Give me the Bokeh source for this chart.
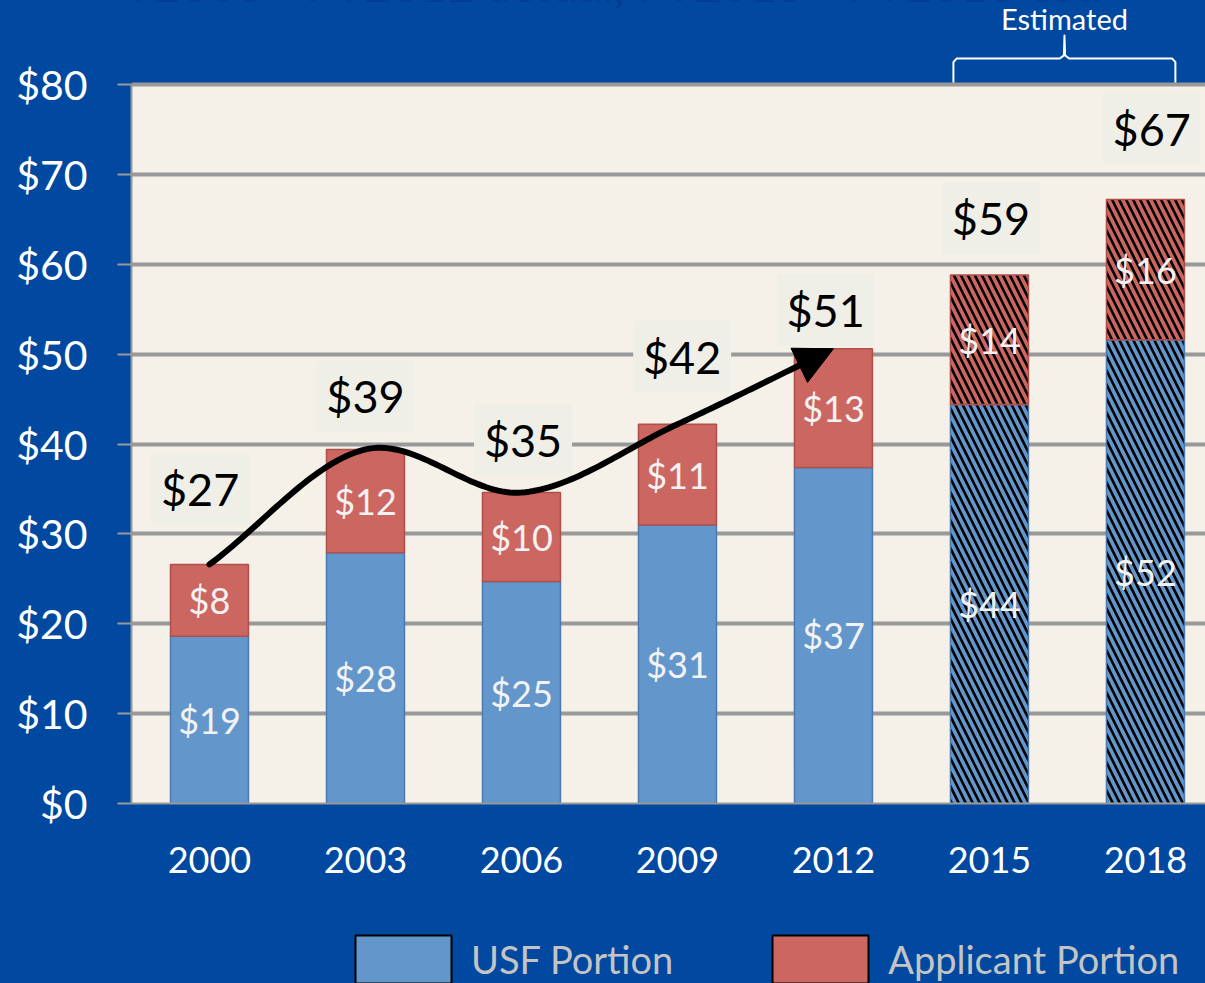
import numpy as np
from bokeh.plotting import figure
from bokeh.layouts import column
from bokeh.models import (ColumnDataSource, Range1d, FixedTicker, NumeralTickFormatter,
                          Legend, LegendItem, Arrow, NormalHead, BoxAnnotation)
from bokeh.core.properties import value
from bokeh.embed import file_html
from bokeh.resources import INLINE

# ---------------- data ----------------
years = ["2000", "2003", "2006", "2009", "2012", "2015", "2018"]
usf_portion = [18.6, 27.9, 24.7, 31.0, 37.4, 44.4, 51.6]
applicant_portion = [8.0, 11.5, 9.9, 11.2, 13.2, 14.4, 15.6]
is_estimated = [False, False, False, False, False, True, True]
y_ticks = [0, 10, 20, 30, 40, 50, 60, 70, 80]
legend_labels = ["USF Portion", "Applicant Portion"]
estimated_text = "Estimated"
title_text = "FY2000 - FY2012 actual, FY2015 - FY2018 est."

# ---------------- layout constants ----------------
total_label_dx = [-0.06, 0.0, 0.01, 0.03, -0.05, 0.01, 0.04]
total_label_y = [35.0, 45.3, 40.5, 49.7, 54.9, 65.1, 75.1]
Y_TOP = 89.35          # data value at the very top of the canvas
X_END = 6.385

BLUE = "#6396CA"
BLUE_EDGE = "#4A7AB0"
RED = "#CC6661"
RED_EDGE = "#AE4F4A"
BG = "#0048A0"
PLOT_BG = "#F5F1E9"
BOX_BG = "#EFEFE7"
GRID = "#999999"
FONT = "Lato"

x = list(range(len(years)))
totals = [u + a for u, a in zip(usf_portion, applicant_portion)]

src = ColumnDataSource(dict(
    x=x,
    usf=usf_portion,
    total=totals,
    usf_mid=[u / 2 for u in usf_portion],
    app_mid=[u + a / 2 for u, a in zip(usf_portion, applicant_portion)],
    usf_lbl=[f"${round(u)}" for u in usf_portion],
    app_lbl=[f"${round(a)}" for a in applicant_portion],
    hatch=["\\" if e else " " for e in is_estimated],
))

lbl_src = ColumnDataSource(dict(
    x=[i + d for i, d in zip(x, total_label_dx)],
    y=total_label_y,
    text=[f"${round(t)}" for t in totals],
))

p = figure(width=1205, height=920, output_backend="svg", toolbar_location=None,
           x_range=Range1d(-0.5, X_END), y_range=Range1d(0, Y_TOP),
           min_border_left=131, min_border_right=0, min_border_top=0, min_border_bottom=117,
           background_fill_color=BG, border_fill_color=BG, outline_line_color=None,
           styles={"background-color": BG})

# plot area (cream) between the lowest and highest tick
p.add_layout(BoxAnnotation(bottom=y_ticks[0], top=y_ticks[-1], fill_color=PLOT_BG, fill_alpha=1,
                           line_color=None, level="image"))

# axes
p.xaxis.ticker = FixedTicker(ticks=x)
p.xaxis.major_label_overrides = {i: y for i, y in enumerate(years)}
p.xaxis.major_tick_line_color = None
p.xaxis.minor_tick_line_color = None
p.xaxis.axis_line_color = GRID
p.xaxis.axis_line_width = 2
p.xaxis.major_label_text_font = FONT
p.xaxis.major_label_text_font_size = "36px"
p.xaxis.major_label_text_color = "white"
p.xaxis.major_label_standoff = 37

p.yaxis.ticker = FixedTicker(ticks=y_ticks)
p.yaxis.bounds = (y_ticks[0], y_ticks[-1])
p.yaxis.formatter = NumeralTickFormatter(format="$0")
p.yaxis.major_tick_in = 0
p.yaxis.major_tick_out = 14
p.yaxis.major_tick_line_color = GRID
p.yaxis.major_tick_line_width = 2
p.yaxis.minor_tick_line_color = None
p.yaxis.axis_line_color = GRID
p.yaxis.axis_line_width = 2
p.yaxis.major_label_text_font = FONT
p.yaxis.major_label_text_font_size = "41px"
p.yaxis.major_label_text_color = "white"
p.yaxis.major_label_standoff = 30

p.xgrid.visible = False
p.ygrid.ticker = FixedTicker(ticks=y_ticks[1:])
p.ygrid.grid_line_color = GRID
p.ygrid.grid_line_width = 4

# title (cut off at the top edge in the original)
p.text(x=[2.5], y=[91.25], text=[title_text], text_align="center", text_baseline="alphabetic",
       text_color="#003A92", text_font=value(FONT), text_font_size="48px")

# bars
hatch_kw = dict(hatch_pattern="hatch", hatch_color="black", hatch_weight=2.6, hatch_scale=14)
p.vbar(x="x", bottom=0, top="usf", width=0.5, source=src, fill_color=BLUE,
       line_color=BLUE_EDGE, line_width=1.5, **hatch_kw)
p.vbar(x="x", bottom="usf", top="total", width=0.5, source=src, fill_color=RED,
       line_color=RED_EDGE, line_width=1.5, **hatch_kw)

# segment labels
seg_kw = dict(text_align="center", text_baseline="middle", text_color="#F2F2F2",
              text_font=value(FONT), text_font_size="36px")
p.text(x="x", y="usf_mid", text="usf_lbl", source=src, **seg_kw)
p.text(x="x", y="app_mid", text="app_lbl", source=src, **seg_kw)

# trend curve through the actual totals (Catmull-Rom), ending with an arrow head
n_act = sum(1 for e in is_estimated if not e)
pts = np.array([[x[i], totals[i]] for i in range(n_act)])
P = np.vstack([2 * pts[0] - pts[1], pts, 2 * pts[-1] - pts[-2]])
cx, cy = [], []
for k in range(1, len(P) - 2):
    p0, p1, p2, p3 = P[k - 1], P[k], P[k + 1], P[k + 2]
    m1, m2 = (p2 - p0) / 2, (p3 - p1) / 2
    last = k == len(P) - 3
    t = np.linspace(0, 0.88 if last else 1, 40, endpoint=last)[:, None]
    h00 = 2 * t**3 - 3 * t**2 + 1
    h10 = t**3 - 2 * t**2 + t
    h01 = -2 * t**3 + 3 * t**2
    h11 = t**3 - t**2
    seg = h00 * p1 + h10 * m1 + h01 * p2 + h11 * m2
    cx.extend(seg[:, 0]); cy.extend(seg[:, 1])
p.line(cx, cy, line_width=6, line_color="black", line_cap="round", line_join="round")
end_tan = pts[-1] - pts[-2]
p.add_layout(Arrow(end=NormalHead(size=38, fill_color="black", line_color="black"),
                   x_start=pts[-1][0] - 0.05 * end_tan[0], y_start=pts[-1][1] - 0.05 * end_tan[1],
                   x_end=pts[-1][0], y_end=pts[-1][1], line_color=None))

# total labels with boxes
p.rect(x="x", y="y", width=98, height=72, width_units="screen", height_units="screen",
       source=lbl_src, fill_color=BOX_BG, line_color=None)
p.text(x="x", y="y", text="text", source=lbl_src, text_align="center", text_baseline="middle",
       text_color="black", text_font=value(FONT), text_font_size="45px")

# "Estimated" brace above the plot area, spanning the estimated bars
bx0, bx1, bxm = 4.769, 6.192, 5.481
yb, yh, yt = 80.22, 82.89, 85.45
brace_x = [bx0, bx0, bx0 + 0.02, bxm - 0.03, bxm - 0.004, bxm, bxm + 0.004, bxm + 0.03, bx1 - 0.02, bx1, bx1]
brace_y = [yb, yh - 0.4, yh, yh, yh + 0.35, yt, yh + 0.35, yh, yh, yh - 0.4, yb]
p.line(brace_x, brace_y, line_color="white", line_width=2, line_join="round")
p.text(x=[bxm], y=[87.34], text=[estimated_text], text_align="center", text_baseline="middle",
       text_color="white", text_font=value(FONT), text_font_size="29px")

# legend in a strip below the chart
q = figure(width=1205, height=63, output_backend="svg", toolbar_location=None,
           x_range=Range1d(0, 1), y_range=Range1d(0, 1), min_border=0,
           background_fill_color=BG, border_fill_color=BG, outline_line_color=None,
           styles={"background-color": BG})
q.axis.visible = False
q.grid.visible = False
# legend proxies (not drawn themselves)
r_usf = q.vbar(x=[-5], top=[1], width=0.5, fill_color=BLUE, line_color="black", line_width=2,
               visible=False)
r_app = q.vbar(x=[-5], top=[1], width=0.5, fill_color=RED, line_color="black", line_width=2,
               visible=False)
legend = Legend(items=[LegendItem(label=legend_labels[0], renderers=[r_usf]),
                       LegendItem(label=legend_labels[1], renderers=[r_app])],
                location=(212, -6), orientation="horizontal",
                glyph_width=120, glyph_height=60, label_standoff=8, spacing=87,
                padding=0, margin=0, border_line_color=None, background_fill_alpha=0,
                inactive_fill_alpha=0,
                label_text_font=FONT, label_text_font_size="38px", label_text_color="#C4C4C4")
q.add_layout(legend)

layout = column(p, q, spacing=0, styles={"background-color": BG})
open("out.html", "w").write(file_html(layout, INLINE))
